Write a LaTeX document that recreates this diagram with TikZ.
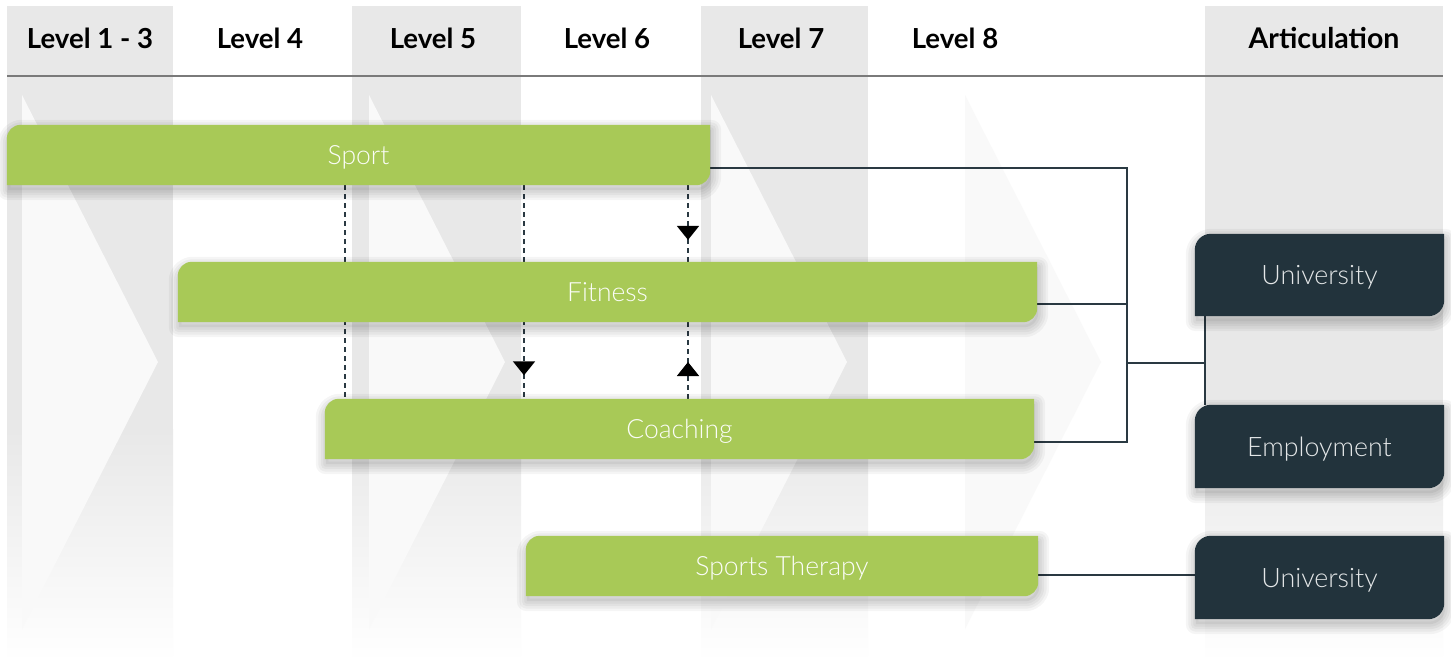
\documentclass[tikz,border=0pt]{standalone}
\usepackage{fontspec}
\setmainfont{Lato}
\IfFontExistsTF{Lato Light}{\newfontfamily\lightfont{Lato Light}}{\newfontfamily\lightfont{Lato}}
\usetikzlibrary{arrows.meta,decorations.markings,calc}
\definecolor{colg}{HTML}{E8E8E8}
\definecolor{chevc}{HTML}{F9F9F9}
\definecolor{barg}{HTML}{A8C957}
\definecolor{darkb}{HTML}{22333C}
\definecolor{linec}{HTML}{2A3942}
\definecolor{headline}{HTML}{7A7A7A}
\pgfdeclarelayer{bg}\pgfdeclarelayer{lines}\pgfdeclarelayer{shapes}
\pgfsetlayers{bg,lines,shapes,main}
\newcommand\leafpath[3]{([#2]#1.south west) -- ([#2,yshift=-#3]#1.north west) arc[start angle=180,end angle=90,radius=#3] -- ([#2]#1.north east) -- ([#2,yshift=#3]#1.south east) arc[start angle=0,end angle=-90,radius=#3] -- cycle}
\newcommand\mkleaf[3]{\begin{pgfonlayer}{shapes}%
  \foreach \w in {20,15,10,5}{\draw[black, opacity=0.04, line width=\w pt, line join=round] \leafpath{#1}{xshift=1pt,yshift=-5pt}{#3};}%
  \fill[black, opacity=0.05] \leafpath{#1}{xshift=1pt,yshift=-5pt}{#3};%
  \fill[#2] \leafpath{#1}{xshift=0pt}{#3};%
  \end{pgfonlayer}}
\tikzset{
  head/.style={anchor=base, font=\fontsize{27.6}{32}\selectfont\bfseries, text=black},
  barbox/.style={inner sep=0pt, text height=19pt, text depth=0pt, minimum height=60pt, font=\fontsize{26.5}{30}\selectfont\lightfont, text=white!96!barg},
  darkbox/.style={inner sep=0pt, text height=19pt, text depth=0pt, minimum width=249pt, minimum height=83pt, font=\fontsize{26.8}{30}\selectfont\lightfont, text=white!88!darkb},
  greenfill/.style={fill=barg},
  darkfill/.style={fill=darkb},
  conn/.style={draw=linec, line width=1.8pt},
  dashline/.style={draw=linec, line width=1.8pt, dash pattern=on 5pt off 4pt},
  arrowmark/.style={postaction={decorate}, decoration={markings, mark=at position #1 with {\arrow[black]{Triangle[width=22pt,length=14pt]}}}},
}
\begin{document}
\begin{tikzpicture}[x=1pt,y=-1pt]
\useasboundingbox (0,0) rectangle (1451,656);
\begin{pgfonlayer}{bg}
\fill[white] (0,0) rectangle (1451,656);
% gray columns
\foreach \a/\b in {7/173, 352/521, 701/868, 1205/1443}{
  \fill[colg] (\a,6) rectangle (\b,430);
  \shade[top color=colg, bottom color=white!97!colg] (\a,429.5) rectangle (\b,656);
}
% chevrons
\foreach \l in {22, 369, 711, 965}{
  \fill[chevc] (\l,95) -- (\l+136,362) -- (\l,629) -- cycle;
}
\draw[headline, line width=2pt] (7,76) -- (1443,76);
\end{pgfonlayer}
% headers
\node[head] (h1) at (90,48) {Level 1 - 3};
\node[head] (h2) at (260,48) {Level 4};
\node[head] (h3) at (433,48) {Level 5};
\node[head] (h4) at (607,48) {Level 6};
\node[head] (h5) at (781,48) {Level 7};
\node[head] (h6) at (955,48) {Level 8};
\node[head, font=\fontsize{28.5}{32}\selectfont\bfseries] (h7) at (1324,48) {Articulation};
% bars
\node[barbox, minimum width=703pt] (sport) at (358.5,155) {Sport};
\node[barbox, minimum width=859pt] (fitness) at (607.5,292) {Fitness};
\node[barbox, minimum width=709pt] (coaching) at (679.5,429) {Coaching};
\node[barbox, minimum width=512pt] (therapy) at (782,566) {Sports Therapy};
\mkleaf{sport}{greenfill}{14pt}
\mkleaf{fitness}{greenfill}{14pt}
\mkleaf{coaching}{greenfill}{14pt}
\mkleaf{therapy}{greenfill}{14pt}
% outcome boxes
\node[darkbox, minimum height=82pt] (uni1) at (1319.5,275) {University};
\node[darkbox] (emp) at (1319.5,446.5) {Employment};
\node[darkbox] (uni2) at (1319.5,577.5) {University};
\mkleaf{uni1}{darkfill}{16pt}
\mkleaf{emp}{darkfill}{16pt}
\mkleaf{uni2}{darkfill}{16pt}
% connectors
\coordinate (bus) at (1127,363);
\coordinate (busr) at (1205,363);
\coordinate (d1) at (345,0);
\coordinate (d2) at (524,0);
\coordinate (d3) at (688,0);
\begin{pgfonlayer}{lines}
\draw[conn] ([yshift=-13pt]sport.east) -| (bus);
\draw[conn] ([yshift=-12pt]fitness.east) -| (bus);
\draw[conn] ([yshift=-13pt]coaching.east) -| (bus);
\draw[conn] (bus) -- (busr);
\draw[conn] ([xshift=10pt]uni1.south west) -- ([xshift=10pt]emp.north west);
\draw[conn] ([yshift=-9pt]therapy.east) -- ([yshift=-9pt]therapy.east -| uni2.west);
\draw[dashline] (sport.south -| d1) -- (coaching.north -| d1);
\draw[dashline, arrowmark=0.89] (sport.south -| d2) -- (coaching.north -| d2);
\draw[dashline, arrowmark=0.714] (sport.south -| d3) -- (fitness.north -| d3);
\draw[dashline, arrowmark=0.48] (coaching.north -| d3) -- (fitness.south -| d3);
\end{pgfonlayer}
\end{tikzpicture}
\end{document}
